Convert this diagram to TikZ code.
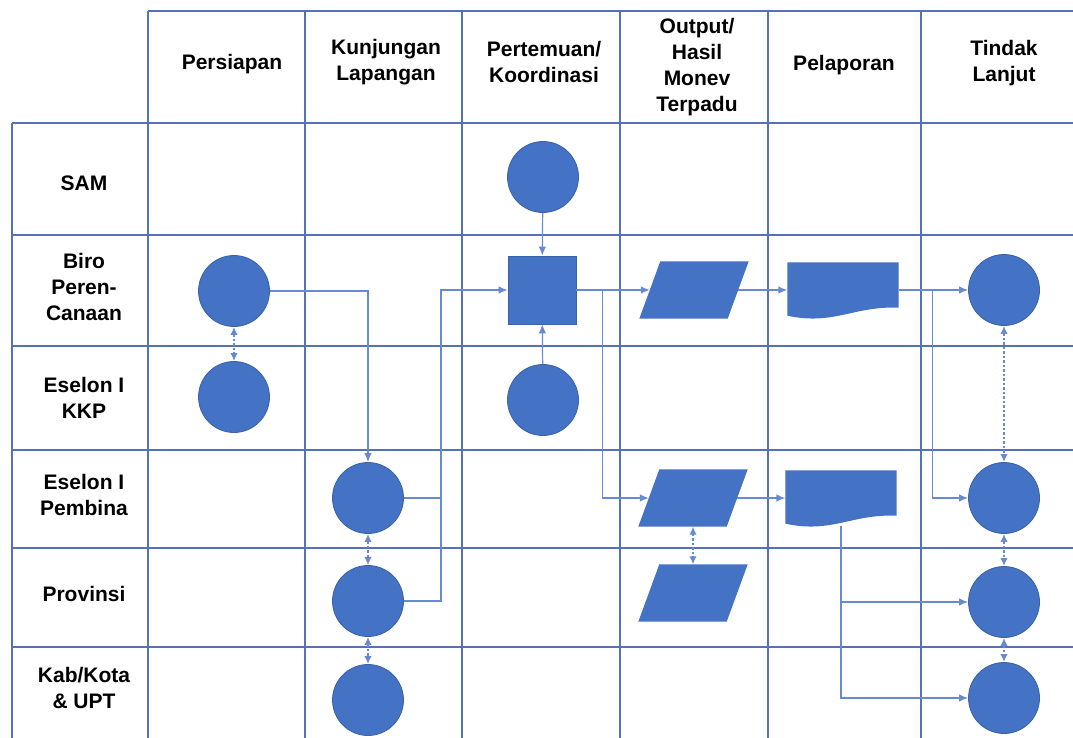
\documentclass[tikz,border=0pt]{standalone}
\usepackage{fontspec}
\setmainfont{Liberation Sans}
\usepackage{tikz}
\usetikzlibrary{positioning,arrows.meta}
\definecolor{laneblue}{RGB}{84,114,180}
\definecolor{lineblue}{RGB}{103,138,208}
\definecolor{shapeblue}{RGB}{68,114,196}
\tikzset{laneline/.style={laneblue,line width=1.4pt},}
\tikzset{lanethick/.style={laneblue,line width=2.4pt},}
\tikzset{flow/.style={lineblue,line width=1.2pt,>={Latex[length=9pt,width=7.5pt]}},}
\tikzset{dotlink/.style={lineblue,line width=1.7pt,<->,>={Latex[length=8pt,width=7.5pt]},dash pattern=on 2.5pt off 2pt},}
\tikzset{lbl/.style={align=center,font=\bfseries\fontsize{21}{26}\selectfont,inner sep=0pt},}
\tikzset{actnode/.style={circle,fill=shapeblue,draw=shapeblue!85!black,line width=0.8pt,minimum size=71pt,inner sep=0pt},}
\tikzset{meetnode/.style={rectangle,fill=shapeblue,draw=shapeblue!85!black,line width=0.8pt,minimum size=68pt,inner sep=0pt},}
\tikzset{datanode/.style={rectangle,minimum width=88pt,minimum height=57pt,inner sep=0pt},}
\tikzset{reportnode/.style={rectangle,minimum width=111pt,minimum height=55pt,inner sep=0pt},}
\newcommand{\datafill}[1]{\fill[shapeblue] ([xshift=-10.5pt]#1.south west) -- ([xshift=10.5pt]#1.north west) -- ([xshift=10.5pt]#1.north east) -- ([xshift=-10.5pt]#1.south east) -- cycle;}
\newcommand{\reportfill}[1]{\fill[shapeblue] (#1.north west) -- (#1.north east) -- ([yshift=10pt]#1.south east) .. controls ([xshift=11pt,yshift=12pt]#1.south) and ([xshift=-9pt,yshift=-8pt]#1.south) .. ([yshift=2pt]#1.south west) -- cycle;}

\begin{document}
\begin{tikzpicture}[x=1pt,y=-1pt]
\useasboundingbox (0,0) rectangle (1073,738);
\draw[laneline] (148,11) -- (1073,11);
\draw[laneline] (12,123) -- (1073,123);
\draw[lanethick] (12,235) -- (1073,235);
\draw[laneline] (12,346) -- (1073,346);
\draw[laneline] (12,450) -- (1073,450);
\draw[laneline] (12,548) -- (1073,548);
\draw[lanethick] (12,647) -- (1073,647);
\draw[laneline] (12,123) -- (12,738);
\draw[laneline] (148,11) -- (148,738);
\draw[laneline] (305,11) -- (305,738);
\draw[laneline] (462,11) -- (462,738);
\draw[lanethick] (620,11) -- (620,738);
\draw[laneline] (768,11) -- (768,738);
\draw[laneline] (921,11) -- (921,738);

\node[lbl] (hPers) at (232,64) {Persiapan};
\node[lbl] (hKun) at (386,62) {Kunjungan\\Lapangan};
\node[lbl] (hTem) at (544,62) {Pertemuan/\\Koordinasi};
\node[lbl] (hOut) at (697,67) {Output/\\Hasil\\Monev\\Terpadu};
\node[lbl] (hLap) at (844,65) {Pelaporan};
\node[lbl] (hTin) at (1004,63) {Tindak\\Lanjut};

\node[lbl] (rSam) at (84,183) {SAM};
\node[lbl] (rBiro) at (84,287) {Biro\\Peren-\\Canaan};
\node[lbl] (rKkp) at (84,398) {Eselon I\\KKP};
\node[lbl] (rPemb) at (84,495) {Eselon I\\Pembina};
\node[lbl] (rProv) at (84,594) {Provinsi};
\node[lbl] (rKab) at (84,688) {Kab/Kota\\\& UPT};

\node[actnode] (persBiro) at (234,291) {};
\node[actnode] (persKkp) at (234,397) {};
\node[actnode] (kunPemb) at (368,498) {};
\node[actnode] (kunProv) at (368,601) {};
\node[actnode] (kunKab) at (368,700) {};
\node[actnode] (temSam) at (543,177) {};
\node[meetnode] (temBiro) at (542,290) {};
\node[actnode] (temKkp) at (543,400) {};
\node[datanode] (outBiro) at (694,290) {};
\datafill{outBiro}
\node[datanode] (outPemb) at (693,498) {};
\datafill{outPemb}
\node[datanode] (outProv) at (693,593) {};
\datafill{outProv}
\node[reportnode] (lapBiro) at (843,290) {};
\reportfill{lapBiro}
\node[reportnode] (lapPemb) at (841,498) {};
\reportfill{lapPemb}
\node[actnode] (tinBiro) at (1004,290) {};
\node[actnode] (tinPemb) at (1004,498) {};
\node[actnode] (tinProv) at (1004,602) {};
\node[actnode] (tinKab) at (1004,698) {};

\draw[flow,->] (persBiro.east) -| (kunPemb.north);
\draw[flow,->] (kunPemb.east) -- ++(37,0) |- (temBiro.west);
\draw[flow] (kunProv.east) -| ([xshift=37pt]kunPemb.east);
\draw[flow,->] (temSam) -- (temBiro);
\draw[flow,->] (temKkp) -- (temBiro);
\draw[flow,->] (temBiro) -- (outBiro);
\draw[flow,->] (temBiro.east) -- ++(26,0) |- (outPemb);
\draw[flow,->] (outBiro) -- (lapBiro);
\draw[flow,->] (outPemb) -- (lapPemb);
\draw[flow,->] (lapBiro) -- (tinBiro);
\draw[flow,->] (lapBiro.east) -- ++(34,0) |- (tinPemb);
\draw[flow,->] (lapPemb.south) |- (tinProv);
\draw[flow,->] (lapPemb.south) |- (tinKab);

\draw[dotlink] (persBiro) -- (persKkp);
\draw[dotlink] (kunPemb) -- (kunProv);
\draw[dotlink] (kunProv) -- (kunKab);
\draw[dotlink] (outPemb) -- (outProv);
\draw[dotlink] (tinBiro) -- (tinPemb);
\draw[dotlink] (tinPemb) -- (tinProv);
\draw[dotlink] (tinProv) -- (tinKab);
\end{tikzpicture}
\end{document}
